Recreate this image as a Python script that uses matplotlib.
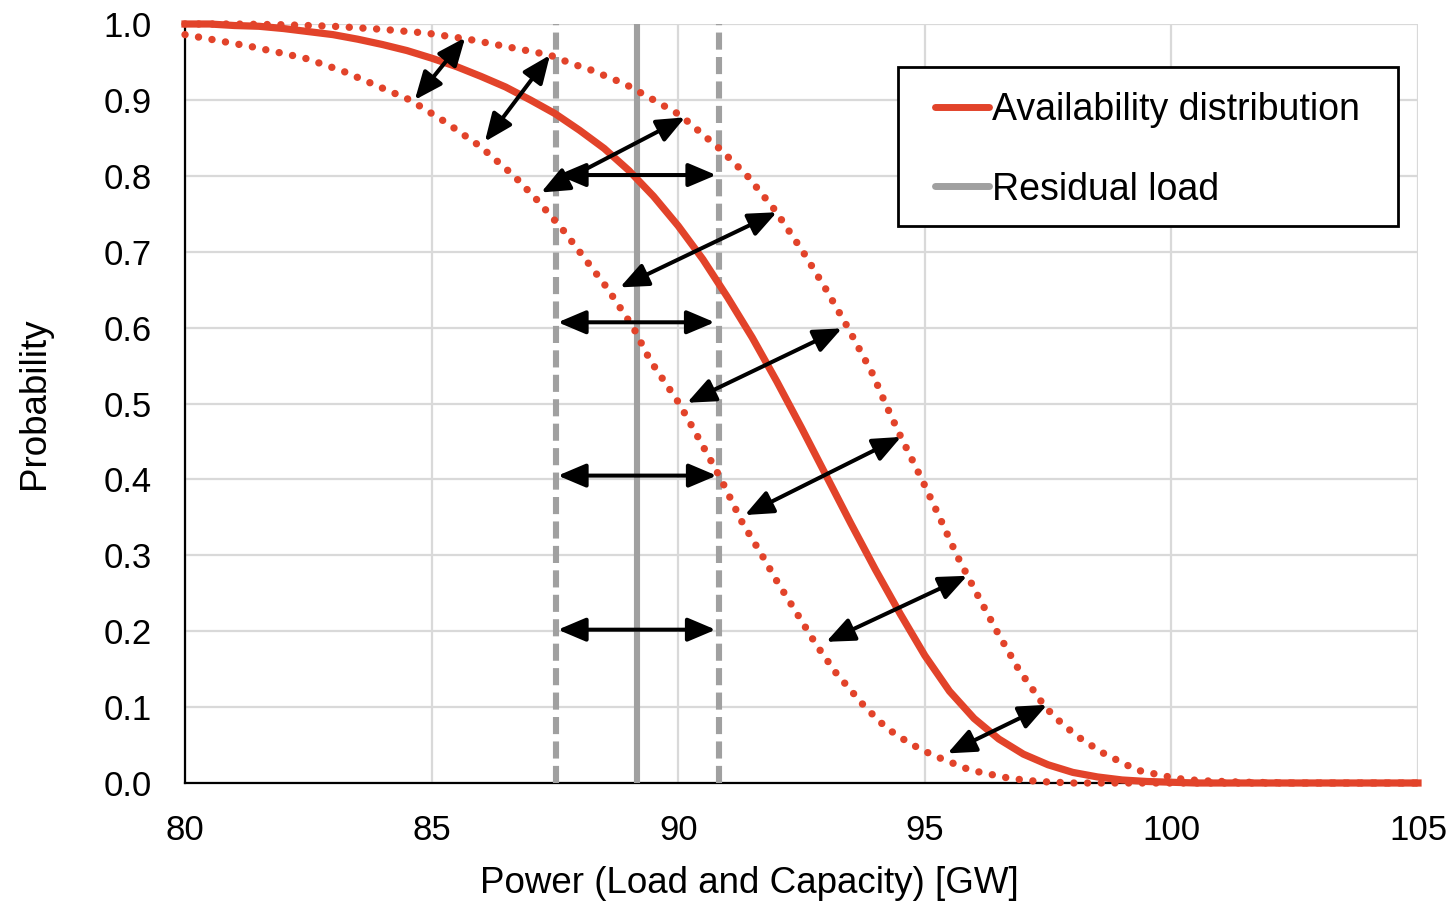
import matplotlib
matplotlib.use("Agg")
import matplotlib.pyplot as plt
from matplotlib.patches import Rectangle

plt.rcParams['font.family'] = ['Liberation Sans', 'DejaVu Sans']

# Availability distribution (solid red), read at 0.5 GW steps
avail_x = [80, 80.5, 81, 81.5, 82, 82.5, 83, 83.5, 84, 84.5, 85, 85.5, 86, 86.5,
           87, 87.5, 88, 88.5, 89, 89.5, 90, 90.5, 91, 91.5, 92, 92.5, 93, 93.5,
           94, 94.5, 95, 95.5, 96, 96.5, 97, 97.5, 98, 98.5, 99, 99.5, 100, 100.5,
           101, 105]
avail_y = [1.000, 1.000, 0.998, 0.997, 0.994, 0.990, 0.986, 0.980, 0.973, 0.965,
           0.955, 0.944, 0.931, 0.917, 0.900, 0.882, 0.860, 0.836, 0.807, 0.773,
           0.734, 0.690, 0.640, 0.587, 0.529, 0.468, 0.405, 0.342, 0.281, 0.223,
           0.168, 0.121, 0.085, 0.058, 0.038, 0.024, 0.014, 0.008, 0.004, 0.002,
           0.001, 0.000, 0.000, 0.000]

# lower shifted distribution (dotted)
low_x = [80, 81.36, 82.43, 83.2, 83.95, 84.56, 85.3, 85.98, 86.67, 87.14, 87.66,
         88.0, 88.55, 89.09, 89.43, 90.02, 90.45, 90.87, 91.3, 91.7, 92.0, 92.63,
         92.8, 93.2, 93.79, 94.23, 94.7, 95.15, 95.92, 96.73, 97.3, 98.0, 105]
low_y = [0.986, 0.970, 0.955, 0.938, 0.917, 0.900, 0.870, 0.839, 0.800, 0.768, 0.729,
         0.700, 0.653, 0.600, 0.557, 0.500, 0.450, 0.400, 0.343, 0.300, 0.266, 0.200,
         0.182, 0.145, 0.100, 0.072, 0.052, 0.037, 0.017, 0.006, 0.002, 0.000, 0.000]

# upper shifted distribution (dotted)
up_x = [80, 81, 82, 83, 84, 84.9, 85.74, 86.85, 87.4, 87.87, 88.17, 88.92, 89.5,
        90.04, 90.85, 91.4, 91.96, 92.53, 93.0, 93.44, 93.95, 94.2, 94.5, 94.94,
        95.3, 95.65, 96.05, 96.46, 96.9, 97.44, 97.8, 98.15, 98.6, 99.3, 100.1,
        100.6, 101.5, 102.5, 105]
up_y = [1.000, 1.000, 0.999, 0.997, 0.993, 0.988, 0.980, 0.966, 0.959, 0.947, 0.941,
        0.921, 0.900, 0.880, 0.835, 0.800, 0.755, 0.700, 0.650, 0.600, 0.538, 0.500,
        0.458, 0.400, 0.350, 0.300, 0.250, 0.200, 0.150, 0.100, 0.077, 0.059, 0.040,
        0.017, 0.006, 0.003, 0.001, 0.000, 0.000]

# residual load and its band
load_x = 89.16
band_x = [87.52, 90.83]

# double arrows (start -> end)
arr_x0 = [84.66, 86.08, 87.22, 87.56, 88.82, 87.56, 90.18, 91.35, 87.56, 93.00, 87.56, 95.46]
arr_y0 = [0.900, 0.845, 0.778, 0.801, 0.653, 0.607, 0.501, 0.353, 0.405, 0.186, 0.202, 0.039]
arr_x1 = [85.68, 87.40, 90.14, 90.77, 92.00, 90.74, 93.32, 94.52, 90.78, 95.86, 90.76, 97.48]
arr_y1 = [0.982, 0.959, 0.877, 0.801, 0.752, 0.607, 0.599, 0.456, 0.405, 0.273, 0.202, 0.103]

red = '#E2432A'
gray = '#A0A0A0'

fig = plt.figure(figsize=(14.55, 9.01), dpi=100)
ax = fig.add_axes([185 / 1455, 1 - 783 / 901, 1233 / 1455, 759 / 901])

ax.plot(low_x, low_y, color=red, lw=5.3, linestyle=(0, (0.01, 1.85)),
        dash_capstyle='round', zorder=3, clip_on=False)
ax.plot(up_x, up_y, color=red, lw=5.3, linestyle=(0, (0.01, 1.85)),
        dash_capstyle='round', zorder=3, clip_on=False)

for bx in band_x:
    ax.axvline(bx, color=gray, lw=4.4, linestyle=(0, (2.8, 1.2)), zorder=2.6)
ax.axvline(load_x, color=gray, lw=4.4, zorder=2.6, label='Residual load')

ax.plot(avail_x, avail_y, color=red, lw=5.2, zorder=4, clip_on=False,
        solid_joinstyle='round', label='Availability distribution')

for x0, y0, x1, y1 in zip(arr_x0, arr_y0, arr_x1, arr_y1):
    ax.annotate('', xy=(x1, y1), xytext=(x0, y0),
                arrowprops=dict(arrowstyle='<|-|>,head_length=0.85,head_width=0.36',
                                mutation_scale=20, color='black', lw=2.9,
                                shrinkA=0, shrinkB=0), zorder=5)

ax.set_xlim(80, 105)
ax.set_ylim(0, 1)
ax.set_xticks(range(80, 106, 5))
ax.set_yticks([i / 10 for i in range(11)])
ax.set_yticklabels([f'{i / 10:.1f}' for i in range(11)])
ax.tick_params(length=0, labelsize=25)
ax.tick_params(axis='x', pad=22)
ax.tick_params(axis='y', pad=24)
ax.grid(True, color='#D9D9D9', lw=1.6)
ax.set_axisbelow(True)
for s in ['top', 'right']:
    ax.spines[s].set_visible(False)
for s in ['left', 'bottom']:
    ax.spines[s].set_linewidth(1.6)
    ax.spines[s].set_color('black')

ax.set_xlabel('Power (Load and Capacity) [GW]', fontsize=26.5)
ax.xaxis.set_label_coords(0.458, -0.109)
ax.set_ylabel('Probability', fontsize=26.5, labelpad=37)

# legend box
ax.add_patch(Rectangle((0.578, 0.734), 0.406, 0.209, transform=ax.transAxes,
                       facecolor='white', edgecolor='black', lw=2, zorder=6))
handles, labels = ax.get_legend_handles_labels()
order = [labels.index('Availability distribution'), labels.index('Residual load')]
leg = ax.legend([handles[i] for i in order], [labels[i] for i in order],
                loc='center left', bbox_to_anchor=(0.6083, 0.834), frameon=False,
                fontsize=27, handlelength=1.45, handletextpad=0.08,
                borderpad=0, borderaxespad=0, labelspacing=1.15)
leg.set_zorder(7)
for h in leg.get_lines():
    h.set_linewidth(5)
    h.set_solid_capstyle('round')

fig.savefig('out.png', dpi=100)
